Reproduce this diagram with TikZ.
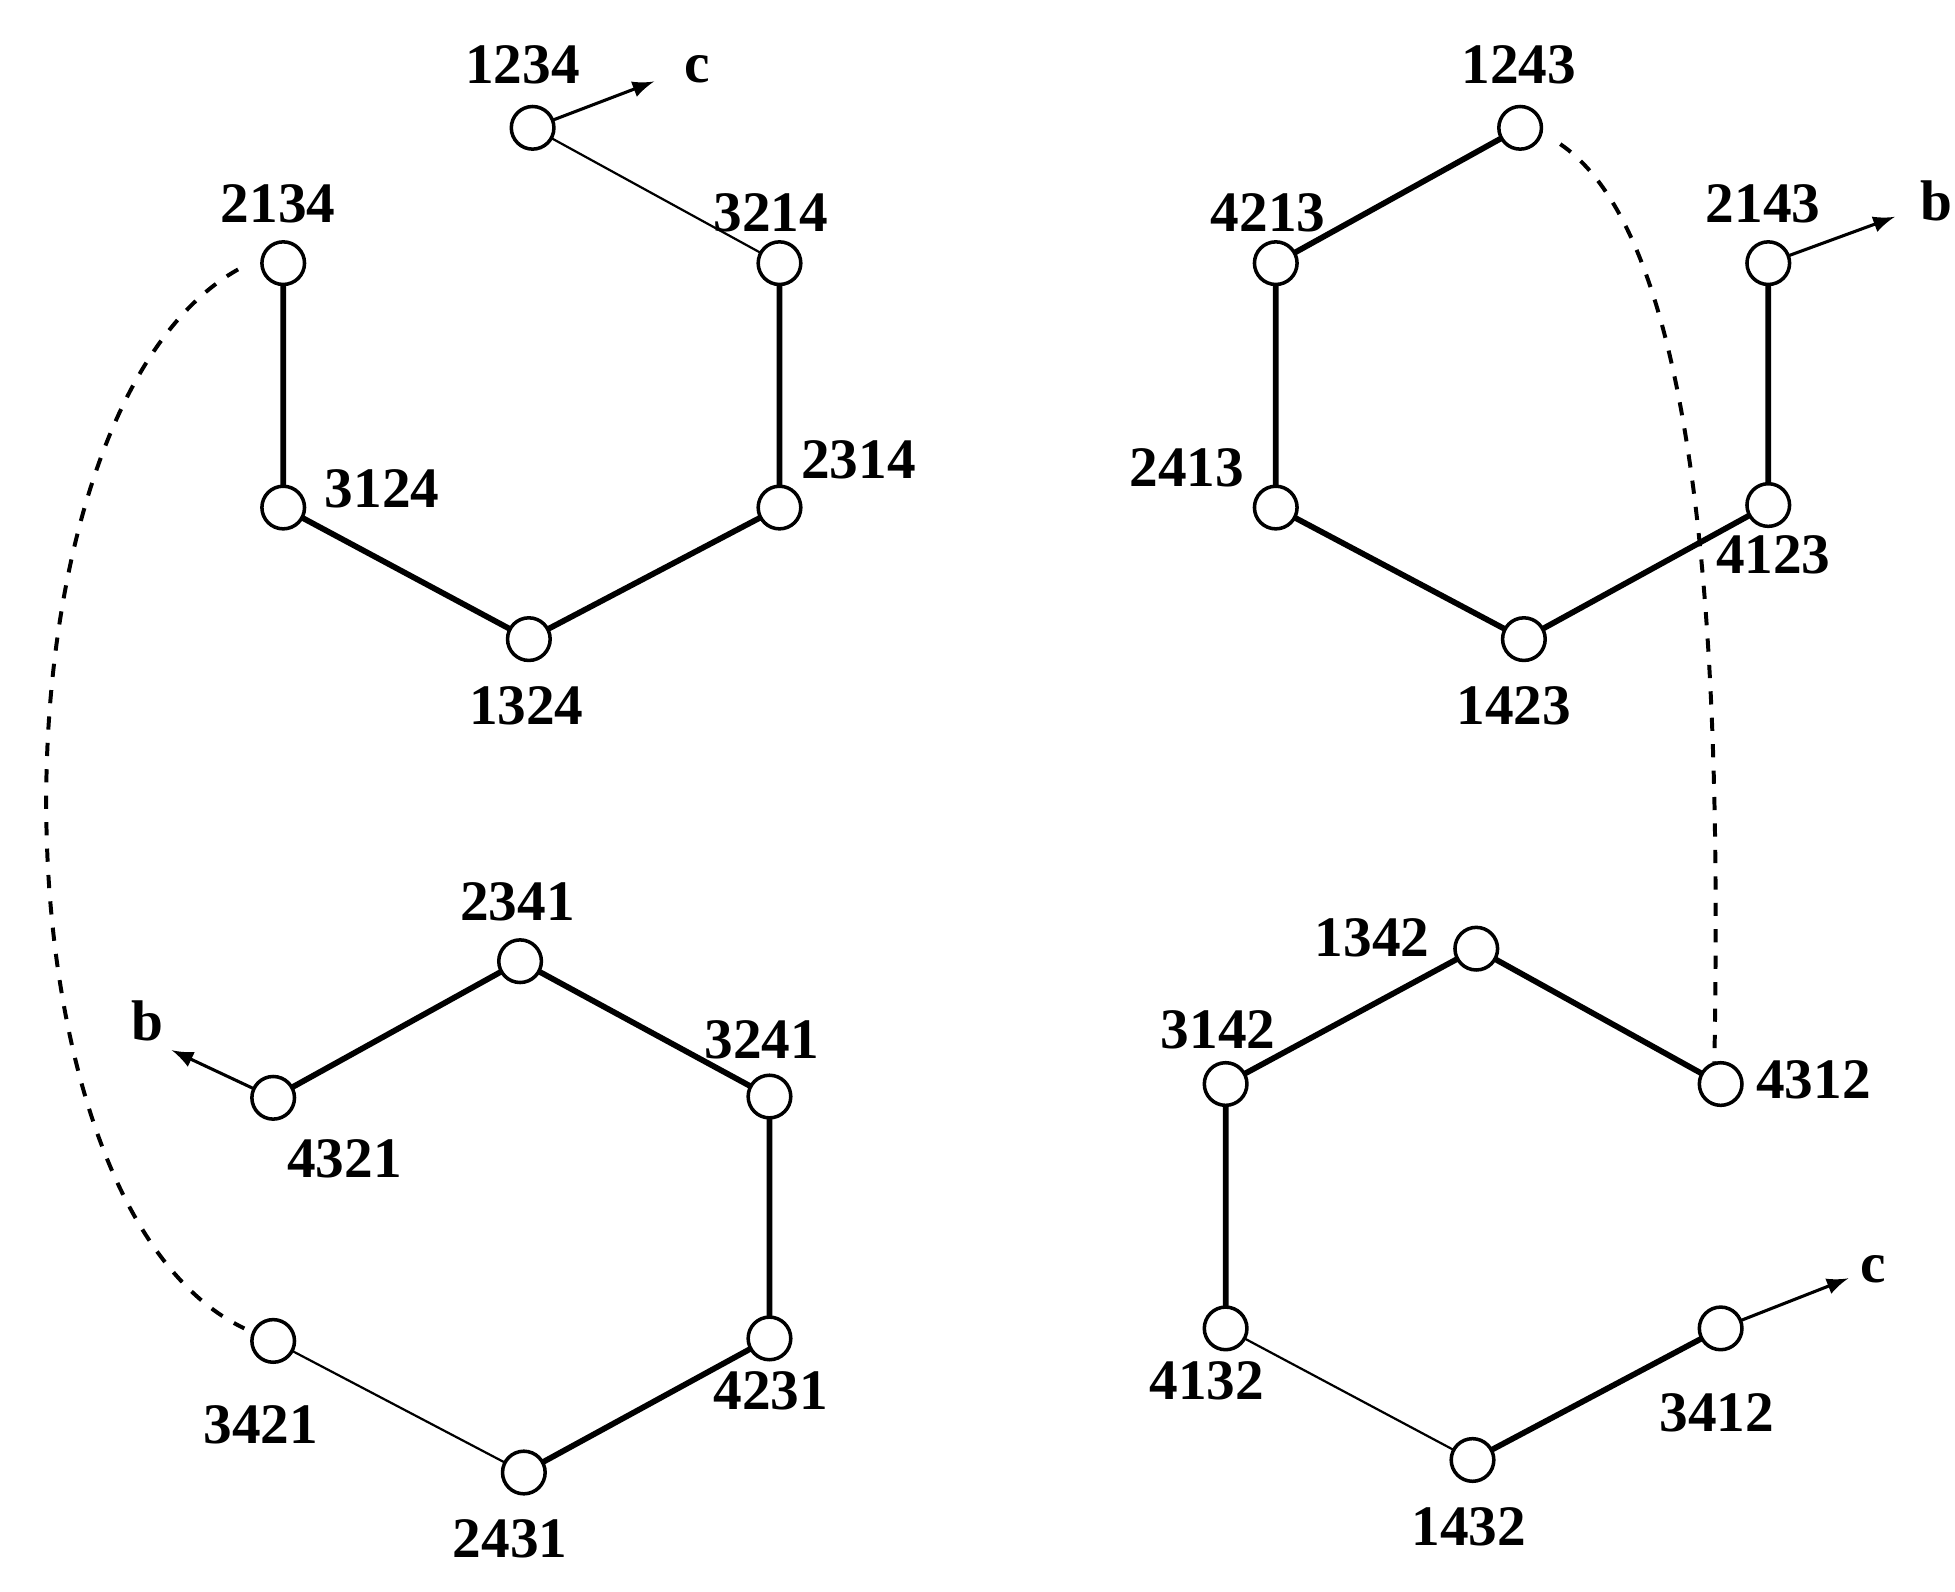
\documentclass[tikz,border=0pt]{standalone}
\usepackage{fontspec}
\setmainfont{Liberation Serif}
\begin{document}
\begin{tikzpicture}[x=0.01cm,y=-0.01cm,
  v/.style={circle,draw,thick,fill=white,minimum size=0.34cm,inner sep=0},
  lb/.style={font=\fontsize{13}{15}\selectfont\bfseries},
  thk/.style={line width=1.3pt},
  thn/.style={line width=0.5pt},
  dsh/.style={dashed,line width=0.9pt},
  ar/.style={-latex,line width=0.7pt}]
\useasboundingbox (0,0) rectangle (1560,1270);
% nodes
\foreach \n/\x/\y in {1234/425/102,3214/622/210,2314/622/405,1324/422/510,3124/226/405,2134/226/210,
 1243/1213/102,4213/1018/210,2413/1018/405,1423/1216/510,4123/1411/403,2143/1411/210,
 2341/415/767,3241/614/875,4231/614/1068,2431/418/1175,3421/218/1070,4321/218/876,
 1342/1178/757,4312/1373/865,3142/978/865,4132/978/1060,1432/1175/1165,3412/1373/1060}
 \coordinate (p\n) at (\x,\y);
% edges
\draw[thn] (p1234)--(p3214);
\draw[thk] (p3214)--(p2314)--(p1324)--(p3124)--(p2134);
\draw[thk] (p1243)--(p4213)--(p2413)--(p1423)--(p4123)--(p2143);
\draw[thk] (p4321)--(p2341)--(p3241)--(p4231)--(p2431);
\draw[thn] (p2431)--(p3421);
\draw[thk] (p4312)--(p1342)--(p3142)--(p4132);
\draw[thn] (p4132)--(p1432);
\draw[thk] (p1432)--(p3412);
\draw[dsh] (190,215) .. controls (-15,330) and (-15,960) .. (195,1060);
\draw[dsh] (1245,115) .. controls (1370,200) and (1372,600) .. (1368,848);
% arrows
\draw[ar] (p1234)--(522,65);
\draw[ar] (p2143)--(1512,173);
\draw[ar] (p4321)--(137,838);
\draw[ar] (p3412)--(1475,1020);
\foreach \n in {1234,3214,2314,1324,3124,2134,1243,4213,2413,1423,4123,2143,2341,3241,4231,2431,3421,4321,1342,4312,3142,4132,1432,3412}
 \node[v] (n\n) at (p\n) {};
% labels
\foreach \n/\x/\y in {1234/417/52,3214/615/170,2314/685/367,3124/305/390,1324/420/563,2134/222/163,
 1243/1212/52,4213/1012/170,2413/947/373,4123/1415/443,1423/1208/563,2143/1407/163,
 2341/413/720,3241/608/830,4321/275/925,4231/615/1110,2431/407/1228,3421/208/1137,
 1342/1095/748,3142/972/822,4312/1447/862,4132/963/1102,1432/1172/1218,3412/1370/1127}
 \node[lb] (t\n) at (\x,\y) {\n};
\node[lb] (c1) at (556,55) {c};
\node[lb] (b1) at (1545,160) {b};
\node[lb] (b2) at (118,815) {b};
\node[lb] (c2) at (1495,1013) {c};
\end{tikzpicture}
\end{document}
